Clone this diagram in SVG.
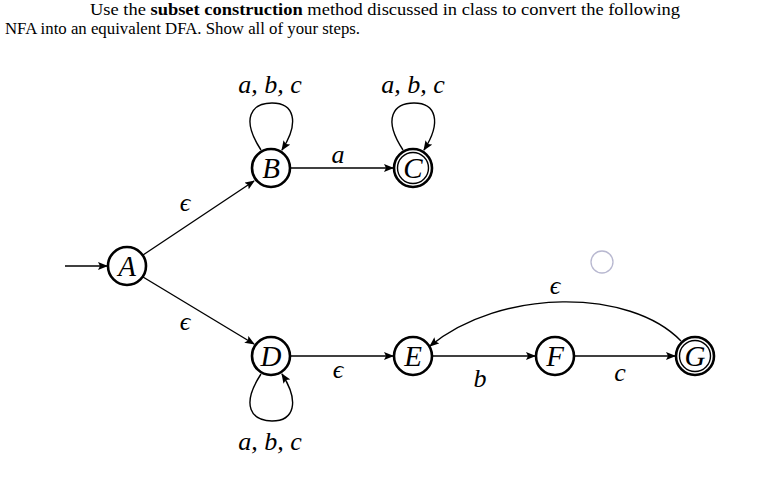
<svg xmlns="http://www.w3.org/2000/svg" width="762" height="483" viewBox="0 0 762 483">
<style>
.t{font-family:"Liberation Serif",serif;font-size:16px;fill:#000}
.n{fill:#fff;stroke:#000;stroke-width:2.6}
.d{fill:none;stroke:#000;stroke-width:1.4}
.l{font-family:"Liberation Serif",serif;font-style:italic;font-size:26px;fill:#000;text-anchor:middle}
.k{font-family:"Liberation Serif",serif;font-style:italic;font-size:29px;fill:#000;text-anchor:middle}
.e{fill:none;stroke:#000;stroke-width:1.4;marker-end:url(#ar)}
</style>
<defs><marker id="ar" viewBox="0 0 10 8" refX="9" refY="4" markerWidth="10" markerHeight="8" markerUnits="userSpaceOnUse" orient="auto"><path d="M0,0L10,4L0,8L2,4z" fill="#000"/></marker></defs>
<rect width="762" height="483" fill="#fff"/>
<text class="t" x="90" y="15" textLength="590" lengthAdjust="spacingAndGlyphs">Use the <tspan font-weight="bold">subset construction</tspan> method discussed in class to convert the following</text>
<text class="t" x="5" y="34" textLength="355" lengthAdjust="spacingAndGlyphs">NFA into an equivalent DFA. Show all of your steps.</text>
<circle cx="602" cy="262" r="11" fill="none" stroke="#b8b8d0" stroke-width="1.3"/>
<g id="connectors">
<path class="e" d="M65,266H107"/>
<path class="e" d="M143,255L254,181"/>
<path class="e" d="M143,277L254,344"/>
<path class="e" d="M291,168H393"/>
<path class="e" d="M291,356H393"/>
<path class="e" d="M433,356H535"/>
<path class="e" d="M575,356H675"/>
<path class="e" d="M681,341C630,288 500,288 430,346"/>
<path class="e" d="M261,150C240,118 252,103 272,103C294,103 300,122 282,150"/>
<path class="e" d="M403,150C382,118 394,103 414,103C436,103 442,122 424,150"/>
<path class="e" d="M261,374C240,406 252,421 272,421C294,421 300,402 282,374"/>
</g>
<g id="A"><circle class="n" cx="127" cy="266" r="19"/><text class="k" x="127" y="276">A</text></g>
<g id="B"><circle class="n" cx="271" cy="168" r="19"/><text class="k" x="271" y="178">B</text></g>
<g id="C"><circle class="n" cx="413" cy="168" r="19"/><circle class="d" cx="413" cy="168" r="15.5"/><text class="k" x="413" y="178">C</text></g>
<g id="D"><circle class="n" cx="271" cy="356" r="19"/><text class="k" x="271" y="366">D</text></g>
<g id="E"><circle class="n" cx="413" cy="356" r="19"/><text class="k" x="413" y="366">E</text></g>
<g id="F"><circle class="n" cx="555" cy="356" r="19"/><text class="k" x="555" y="366">F</text></g>
<g id="G"><circle class="n" cx="695" cy="356" r="19"/><circle class="d" cx="695" cy="356" r="15.5"/><text class="k" x="695" y="366">G</text></g>
<g id="labels">
<text class="l" x="270" y="93">a, b, c</text>
<text class="l" x="413" y="93">a, b, c</text>
<text class="l" x="270" y="450">a, b, c</text>
<text class="l" x="338" y="163">a</text>
<text class="l" x="185" y="211" font-size="20">ϵ</text>
<text class="l" x="185" y="330" font-size="20">ϵ</text>
<text class="l" x="338" y="378" font-size="20">ϵ</text>
<text class="l" x="480" y="387">b</text>
<text class="l" x="620" y="381">c</text>
<text class="l" x="555" y="294" font-size="20">ϵ</text>
</g>
</svg>
